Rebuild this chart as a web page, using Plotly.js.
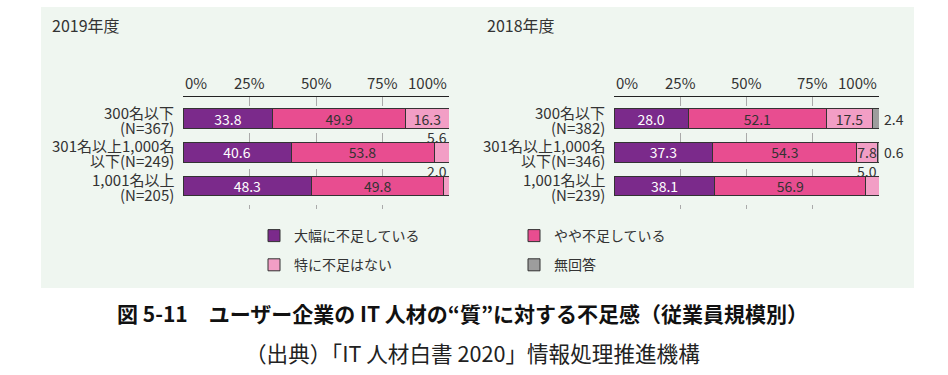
<!DOCTYPE html>
<html>
<head>
<meta charset="utf-8">
<script src="https://cdn.plot.ly/plotly-3.0.1.min.js"></script>
<style>html,body{margin:0;padding:0;background:#fff;}#chart{width:948px;height:375px;}</style>
</head>
<body>
<div id="chart"></div>
<script>
// ---- data ----
const panelTitles = ["2019年度", "2018年度"];
const seriesNames = ["大幅に不足している", "やや不足している", "特に不足はない", "無回答"];
const catLine1_2019 = ["300名以下", "301名以上1,000名", "1,001名以上"];
const catLine2_2019 = ["(N=367)", "以下(N=249)", "(N=205)"];
const catLine1_2018 = ["300名以下", "301名以上1,000名", "1,001名以上"];
const catLine2_2018 = ["(N=382)", "以下(N=346)", "(N=239)"];
const taisoku2019 = [33.8, 40.6, 48.3];
const yaya2019 = [49.9, 53.8, 49.8];
const tokuni2019 = [16.3, 5.6, 2.0];
const taisoku2018 = [28.0, 37.3, 38.1];
const yaya2018 = [52.1, 54.3, 56.9];
const tokuni2018 = [17.5, 7.8, 5.0];
const mukaito2018 = [2.4, 0.6, 0];
const tickValues = [0, 25, 50, 75, 100];

// ---- styles ----
const W = 948, H = 375;
const FONT = "Noto Sans CJK JP";
const colors = ["#7B2A8B", "#E84D90", "#F29EC5", "#9D9D9D"];
const textColors = ["#ffffff", "#333333", "#333333", "#333333"];
const px = v => v / W;
const py = v => 1 - v / H;
const INSIDE_MIN = 7;

const panels = [
  {xa: "x", ya: "y", cats1: catLine1_2019, cats2: catLine2_2019,
   series: [taisoku2019, yaya2019, tokuni2019], showLegend: false, labelRight: 176, titleX: 50},
  {xa: "x2", ya: "y2", cats1: catLine1_2018, cats2: catLine2_2018,
   series: [taisoku2018, yaya2018, tokuni2018, mukaito2018], showLegend: true, labelRight: 607, titleX: 485}
];

const traces = [];
const annotations = [];
panels.forEach((p, pi) => {
  const cats = p.cats1.map((c, i) => c + p.cats2[i]);
  p.series.forEach((vals, si) => {
    traces.push({
      type: "bar", orientation: "h", name: seriesNames[si],
      x: vals, y: cats, xaxis: p.xa, yaxis: p.ya, width: 0.58,
      marker: {color: colors[si], line: {color: "#333", width: 1}},
      text: vals.map(v => v >= INSIDE_MIN ? v.toFixed(1) : ""),
      textposition: "inside", insidetextanchor: "middle", constraintext: "none", textangle: 0,
      textfont: {family: FONT, size: 14, color: textColors[si]},
      cliponaxis: false, hoverinfo: "skip",
      showlegend: p.showLegend, legend: (si === 0 || si === 2) ? "legend" : "legend2",
      legendgroup: "g" + si
    });
    vals.forEach((v, ci) => {
      if (v > 0 && v < INSIDE_MIN) {
        if (si === 3) {
          annotations.push({xref: p.xa, yref: p.ya, x: 100, y: ci, xanchor: "left", xshift: 3,
            text: v.toFixed(1), showarrow: false, font: {family: FONT, size: 14, color: "#333"}});
        } else {
          annotations.push({xref: p.xa, yref: p.ya, x: 100, y: ci, xanchor: "right", yanchor: "middle", yshift: 15,
            text: v.toFixed(1), showarrow: false, font: {family: FONT, size: 14, color: "#333"}});
        }
      }
    });
  });
  p.cats1.forEach((c, ci) => {
    annotations.push({xref: "paper", yref: p.ya, x: px(p.labelRight), y: ci, xanchor: "right", yanchor: "middle", yshift: 6.5,
      text: c, showarrow: false, font: {family: FONT, size: 15, color: "#333"}});
    annotations.push({xref: "paper", yref: p.ya, x: px(p.labelRight), y: ci, xanchor: "right", yanchor: "middle", yshift: -8.5,
      text: p.cats2[ci], showarrow: false, font: {family: FONT, size: 15, color: "#333"}});
  });
  tickValues.forEach((t, ti) => {
    annotations.push({xref: p.xa, yref: "paper", x: t, y: py(82), yanchor: "middle",
      xanchor: ti === 0 ? "left" : (ti === tickValues.length - 1 ? "right" : "center"),
      text: t + "%", showarrow: false, font: {family: FONT, size: 15, color: "#333"}});
  });
  annotations.push({xref: "paper", yref: "paper", x: px(p.titleX), y: py(25), xanchor: "left", yanchor: "middle",
    text: panelTitles[pi], showarrow: false, font: {family: FONT, size: 16, color: "#333"}});
});

annotations.push({xref: "paper", yref: "paper", x: px(462), y: py(313), xanchor: "center", yanchor: "middle",
  text: "<b>図 5-11　ユーザー企業の IT 人材の“質”に対する不足感（従業員規模別）</b>", showarrow: false,
  font: {family: FONT, size: 21, color: "#111"}});
annotations.push({xref: "paper", yref: "paper", x: px(472), y: py(352), xanchor: "center", yanchor: "middle",
  text: "（出典）「IT 人材白書 2020」情報処理推進機構", showarrow: false,
  font: {family: FONT, size: 21.6, color: "#222"}});

const xBase = {range: [0, 100], side: "top", showticklabels: false, ticks: "", tickvals: tickValues,
  showgrid: true, griddash: "dash", gridcolor: "#aaaaaa", gridwidth: 1,
  showline: true, linecolor: "#222", linewidth: 1, zeroline: false, fixedrange: true};
const yBase = {type: "category", range: [2.68, -0.64], showticklabels: false, ticks: "", showgrid: false,
  zeroline: false, showline: false, fixedrange: true};

const legBase = {xref: "paper", yref: "paper", xanchor: "left", yanchor: "top",
  orientation: "v", traceorder: "grouped", tracegroupgap: 8, bgcolor: "rgba(0,0,0,0)",
  font: {family: FONT, size: 14, color: "#333"}};

const layout = {
  width: W, height: H, margin: {l: 0, r: 0, t: 0, b: 0, autoexpand: false},
  paper_bgcolor: "#ffffff", plot_bgcolor: "rgba(0,0,0,0)",
  barmode: "stack", bargap: 0,
  font: {family: FONT, size: 14, color: "#333"},
  xaxis: Object.assign({}, xBase, {domain: [px(183), px(449)], anchor: "y"}),
  yaxis: Object.assign({}, yBase, {domain: [py(209), py(97)], anchor: "x"}),
  xaxis2: Object.assign({}, xBase, {domain: [px(614), px(879)], anchor: "y2"}),
  yaxis2: Object.assign({}, yBase, {domain: [py(209), py(97)], anchor: "x2"}),
  legend: Object.assign({}, legBase, {x: px(254), y: py(220)}),
  legend2: Object.assign({}, legBase, {x: px(514), y: py(220)}),
  shapes: [{type: "rect", xref: "paper", yref: "paper", x0: px(41), x1: px(914), y0: py(288), y1: py(7),
    fillcolor: "#EFF6F0", line: {width: 0}, layer: "below"}],
  annotations: annotations
};

Plotly.newPlot("chart", traces, layout, {displayModeBar: false, staticPlot: true});
</script>
</body>
</html>
